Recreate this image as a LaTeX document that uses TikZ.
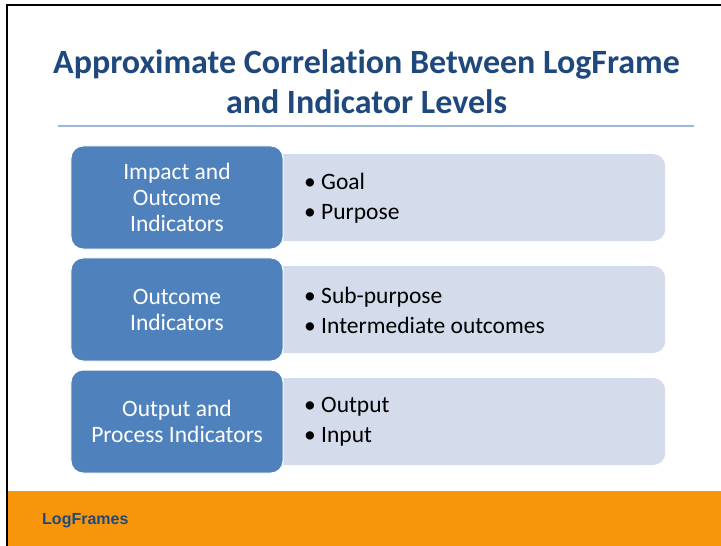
\documentclass[tikz,border=0pt]{standalone}
\usepackage{fontspec}
\setmainfont[Ligatures=NoCommon]{Carlito}
\newfontfamily\footfont{Liberation Sans}
\definecolor{titleblue}{HTML}{1F497D}
\definecolor{boxblue}{HTML}{4F81BD}
\definecolor{lightbox}{HTML}{D4DBEA}
\definecolor{sepline}{HTML}{9DB8DA}
\definecolor{footorange}{HTML}{F7960A}
\tikzset{
  levelbox/.style={draw=white, line width=1bp, fill=boxblue, rounded corners=12bp,
    minimum width=212bp, minimum height=103bp, text=white, align=center,
    font=\fontsize{23.5bp}{26bp}\selectfont, inner sep=0pt},
  itembox/.style={fill=lightbox, rounded corners=12bp, minimum width=392bp,
    minimum height=87bp, inner sep=0pt},
  items/.style={anchor=west, align=left, font=\fontsize{23.5bp}{30bp}\selectfont, inner sep=0pt}
}
\begin{document}
\begin{tikzpicture}[x=1bp,y=-1bp]
\useasboundingbox (0,0) rectangle (721,546);
\fill[white] (0,0) rectangle (721,546);
% frame
\draw[line width=2bp] (7,546) -- (7,5) -- (721,5);
% footer
\fill[footorange] (8,491) rectangle (721,546);
\node[anchor=west, font=\footfont\bfseries\fontsize{16bp}{18bp}\selectfont, text=titleblue, inner sep=0pt] (foot) at (42,521) {LogFrames};
% title
\node[font=\bfseries\fontsize{34bp}{40bp}\selectfont, text=titleblue, align=center, inner sep=0pt] (title) at (366.5,82) {Approximate Correlation Between LogFrame\\and Indicator Levels};
\draw[sepline, line width=1.5bp] (58,126) -- (694,126);
% rows
\node[itembox, anchor=west] (i1) at (273,197.5) {};
\node[itembox, anchor=west] (i2) at (273,309.5) {};
\node[itembox, anchor=west] (i3) at (273,421.5) {};
\node[levelbox] (b1) at (177,197.5) {Impact and\\Outcome\\Indicators};
\node[levelbox] (b2) at (177,309.5) {Outcome\\Indicators};
\node[levelbox] (b3) at (177,421.5) {Output and\\Process Indicators};
\node[items] (t1) at (304,198) {\textbullet\ Goal\\\textbullet\ Purpose};
\node[items] (t2) at (304,310) {\textbullet\ Sub-purpose\\\textbullet\ Intermediate outcomes};
\node[items] (t3) at (304,422) {\textbullet\ Output\\\textbullet\ Input};
\end{tikzpicture}
\end{document}
